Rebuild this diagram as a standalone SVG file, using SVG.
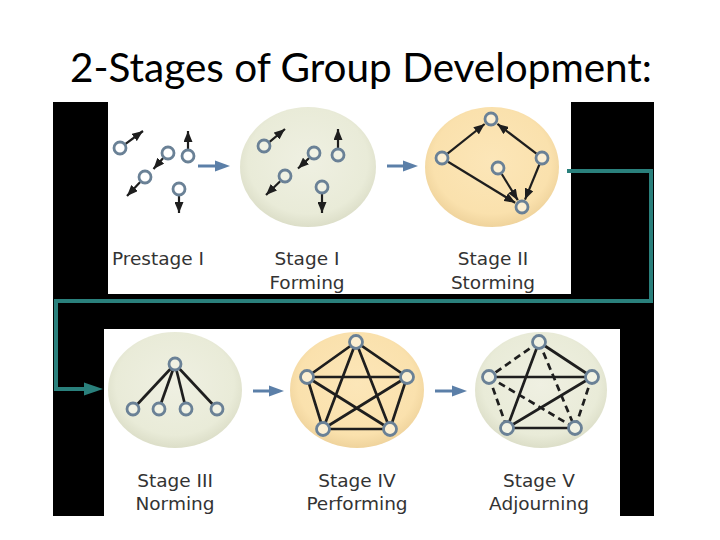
<svg xmlns="http://www.w3.org/2000/svg" width="720" height="540" viewBox="0 0 720 540">
<style>
.title{font-family:"Lato","Liberation Sans",sans-serif;font-size:40px;fill:#000}
.lbl{font-family:"DejaVu Sans","Liberation Sans",sans-serif;font-size:18.5px;fill:#333333;text-anchor:middle}
.nd{stroke:#6a8196;stroke-width:2.8}
.nw{fill:#ffffff}
.ng{fill:#f1f2e4}
.np{fill:#fcefd2}
.e{stroke:#1e1e1e;stroke-width:2.7;fill:none}
.ea{stroke:#1e1e1e;stroke-width:2.2;fill:none;marker-end:url(#ah)}
.d{stroke-dasharray:7 4.5}
.sa{stroke:#5b7fa8;stroke-width:3;fill:none}
.sah{fill:#5b7fa8}
.teal{stroke:#2a807c;stroke-width:4;fill:none}
</style>
<defs>
<marker id="ah" markerUnits="userSpaceOnUse" markerWidth="11" markerHeight="9" refX="11" refY="4.5" orient="auto">
<path d="M0,0 L11,4.5 L0,9 z" fill="#1e1e1e"/>
</marker>
<radialGradient id="gGreen" cx="0.5" cy="0.45" r="0.55">
<stop offset="0" stop-color="#eff0e2"/>
<stop offset="0.8" stop-color="#e9ebd8"/>
<stop offset="1" stop-color="#dcdec8"/>
</radialGradient>
<radialGradient id="gPeach" cx="0.5" cy="0.45" r="0.55">
<stop offset="0" stop-color="#fce6b8"/>
<stop offset="0.8" stop-color="#fae1ad"/>
<stop offset="1" stop-color="#efd39c"/>
</radialGradient>
</defs>
<rect x="0" y="0" width="720" height="540" fill="#ffffff"/>
<text class="title" x="70" y="82" textLength="582" lengthAdjust="spacingAndGlyphs">2-Stages of Group Development:</text>
<rect x="53" y="102" width="601" height="414" fill="#000000"/>
<rect x="108" y="102" width="463" height="192" fill="#ffffff"/>
<rect x="104" y="329" width="516" height="187" fill="#ffffff"/>

<g id="prestage">
<line class="ea" x1="125.6" y1="143.8" x2="143" y2="131"/>
<line class="ea" x1="163.2" y1="158" x2="153.5" y2="169"/>
<line class="ea" x1="140.2" y1="182.1" x2="127" y2="196"/>
<line class="ea" x1="188" y1="149" x2="188" y2="131"/>
<line class="ea" x1="179" y1="196" x2="179" y2="213"/>
<circle class="nd nw" cx="120" cy="148" r="6"/>
<circle class="nd nw" cx="168" cy="153" r="6"/>
<circle class="nd nw" cx="145" cy="177" r="6"/>
<circle class="nd nw" cx="188" cy="156" r="6"/>
<circle class="nd nw" cx="179" cy="189" r="6"/>
<text class="lbl" x="158" y="265">Prestage I</text>
</g>

<g id="stage1">
<ellipse cx="308" cy="167" rx="68" ry="60" fill="url(#gGreen)"/>
<line class="ea" x1="269.6" y1="141.8" x2="285" y2="129"/>
<line class="ea" x1="309.2" y1="158" x2="298" y2="168.5"/>
<line class="ea" x1="280.2" y1="181.2" x2="266" y2="195"/>
<line class="ea" x1="338" y1="148" x2="338" y2="129"/>
<line class="ea" x1="322" y1="194" x2="322" y2="213"/>
<circle class="nd ng" cx="264" cy="146" r="6"/>
<circle class="nd ng" cx="314" cy="153" r="6"/>
<circle class="nd ng" cx="285" cy="176" r="6"/>
<circle class="nd ng" cx="338" cy="155" r="6"/>
<circle class="nd ng" cx="322" cy="187" r="6"/>
<text class="lbl" x="307" y="265">Stage I</text>
<text class="lbl" x="307" y="289">Forming</text>
</g>

<g id="stage2">
<ellipse cx="492" cy="167" rx="67" ry="60" fill="url(#gPeach)"/>
<line class="ea" x1="447.5" y1="153.6" x2="484.7" y2="124"/>
<line class="ea" x1="536.4" y1="153.7" x2="497.4" y2="123.9"/>
<line class="ea" x1="448" y1="161.7" x2="515.2" y2="202.8"/>
<line class="ea" x1="501.7" y1="174" x2="517.8" y2="200.2"/>
<line class="ea" x1="539.4" y1="164.5" x2="525" y2="199.6"/>
<circle class="nd np" cx="491" cy="119" r="6"/>
<circle class="nd np" cx="442" cy="158" r="6"/>
<circle class="nd np" cx="542" cy="158" r="6"/>
<circle class="nd np" cx="498" cy="168" r="6"/>
<circle class="nd np" cx="522" cy="207" r="6"/>
<text class="lbl" x="493" y="265">Stage II</text>
<text class="lbl" x="493" y="289">Storming</text>
</g>

<g id="stage3">
<ellipse cx="175" cy="390" rx="67" ry="58" fill="url(#gGreen)"/>
<line class="e" x1="175" y1="364" x2="133" y2="409"/>
<line class="e" x1="175" y1="364" x2="159" y2="409"/>
<line class="e" x1="175" y1="364" x2="186" y2="409"/>
<line class="e" x1="175" y1="364" x2="217" y2="409"/>
<circle class="nd ng" cx="175" cy="364" r="6"/>
<circle class="nd ng" cx="133" cy="409" r="6"/>
<circle class="nd ng" cx="159" cy="409" r="6"/>
<circle class="nd ng" cx="186" cy="409" r="6"/>
<circle class="nd ng" cx="217" cy="409" r="6"/>
<text class="lbl" x="175" y="487">Stage III</text>
<text class="lbl" x="175" y="510">Norming</text>
</g>

<g id="stage4">
<ellipse cx="357" cy="390" rx="67" ry="58" fill="url(#gPeach)"/>
<path class="e" d="M356,342 L307,377 L323,429 L390,429 L407,377 Z M356,342 L323,429 M356,342 L390,429 M307,377 L407,377 M307,377 L390,429 M407,377 L323,429"/>
<circle class="nd np" cx="356" cy="342" r="6.5"/>
<circle class="nd np" cx="307" cy="377" r="6.5"/>
<circle class="nd np" cx="407" cy="377" r="6.5"/>
<circle class="nd np" cx="323" cy="429" r="6.5"/>
<circle class="nd np" cx="390" cy="429" r="6.5"/>
<text class="lbl" x="357" y="487">Stage IV</text>
<text class="lbl" x="357" y="510">Performing</text>
</g>

<g id="stage5">
<ellipse cx="541" cy="390" rx="66" ry="58" fill="url(#gGreen)"/>
<path class="e" d="M539,342 L592,377 M539,342 L507,428 M489,377 L592,377 M592,377 L507,428 M507,428 L575,428"/>
<path class="e d" d="M539,342 L489,377 M539,342 L575,428 M489,377 L507,428 M489,377 L575,428 M592,377 L575,428"/>
<circle class="nd ng" cx="539" cy="342" r="6.5"/>
<circle class="nd ng" cx="489" cy="377" r="6.5"/>
<circle class="nd ng" cx="592" cy="377" r="6.5"/>
<circle class="nd ng" cx="507" cy="428" r="6.5"/>
<circle class="nd ng" cx="575" cy="428" r="6.5"/>
<text class="lbl" x="539" y="487">Stage V</text>
<text class="lbl" x="539" y="510">Adjourning</text>
</g>

<g id="connectors">
<line class="sa" x1="198" y1="166" x2="218" y2="166"/>
<path class="sah" d="M215,160.5 L230,166 L215,171.5 Z"/>
<line class="sa" x1="387" y1="166" x2="406" y2="166"/>
<path class="sah" d="M403,160.5 L418,166 L403,171.5 Z"/>
<line class="sa" x1="253" y1="391" x2="272" y2="391"/>
<path class="sah" d="M269,385.5 L284,391 L269,396.5 Z"/>
<line class="sa" x1="435" y1="391" x2="455" y2="391"/>
<path class="sah" d="M452,385.5 L467,391 L452,396.5 Z"/>
<polyline class="teal" points="567,171 651,171 651,301 56,301 56,389 88,389"/>
<path d="M84,382.5 L103,389 L84,395.5 Z" fill="#2a807c"/>
</g>
</svg>
